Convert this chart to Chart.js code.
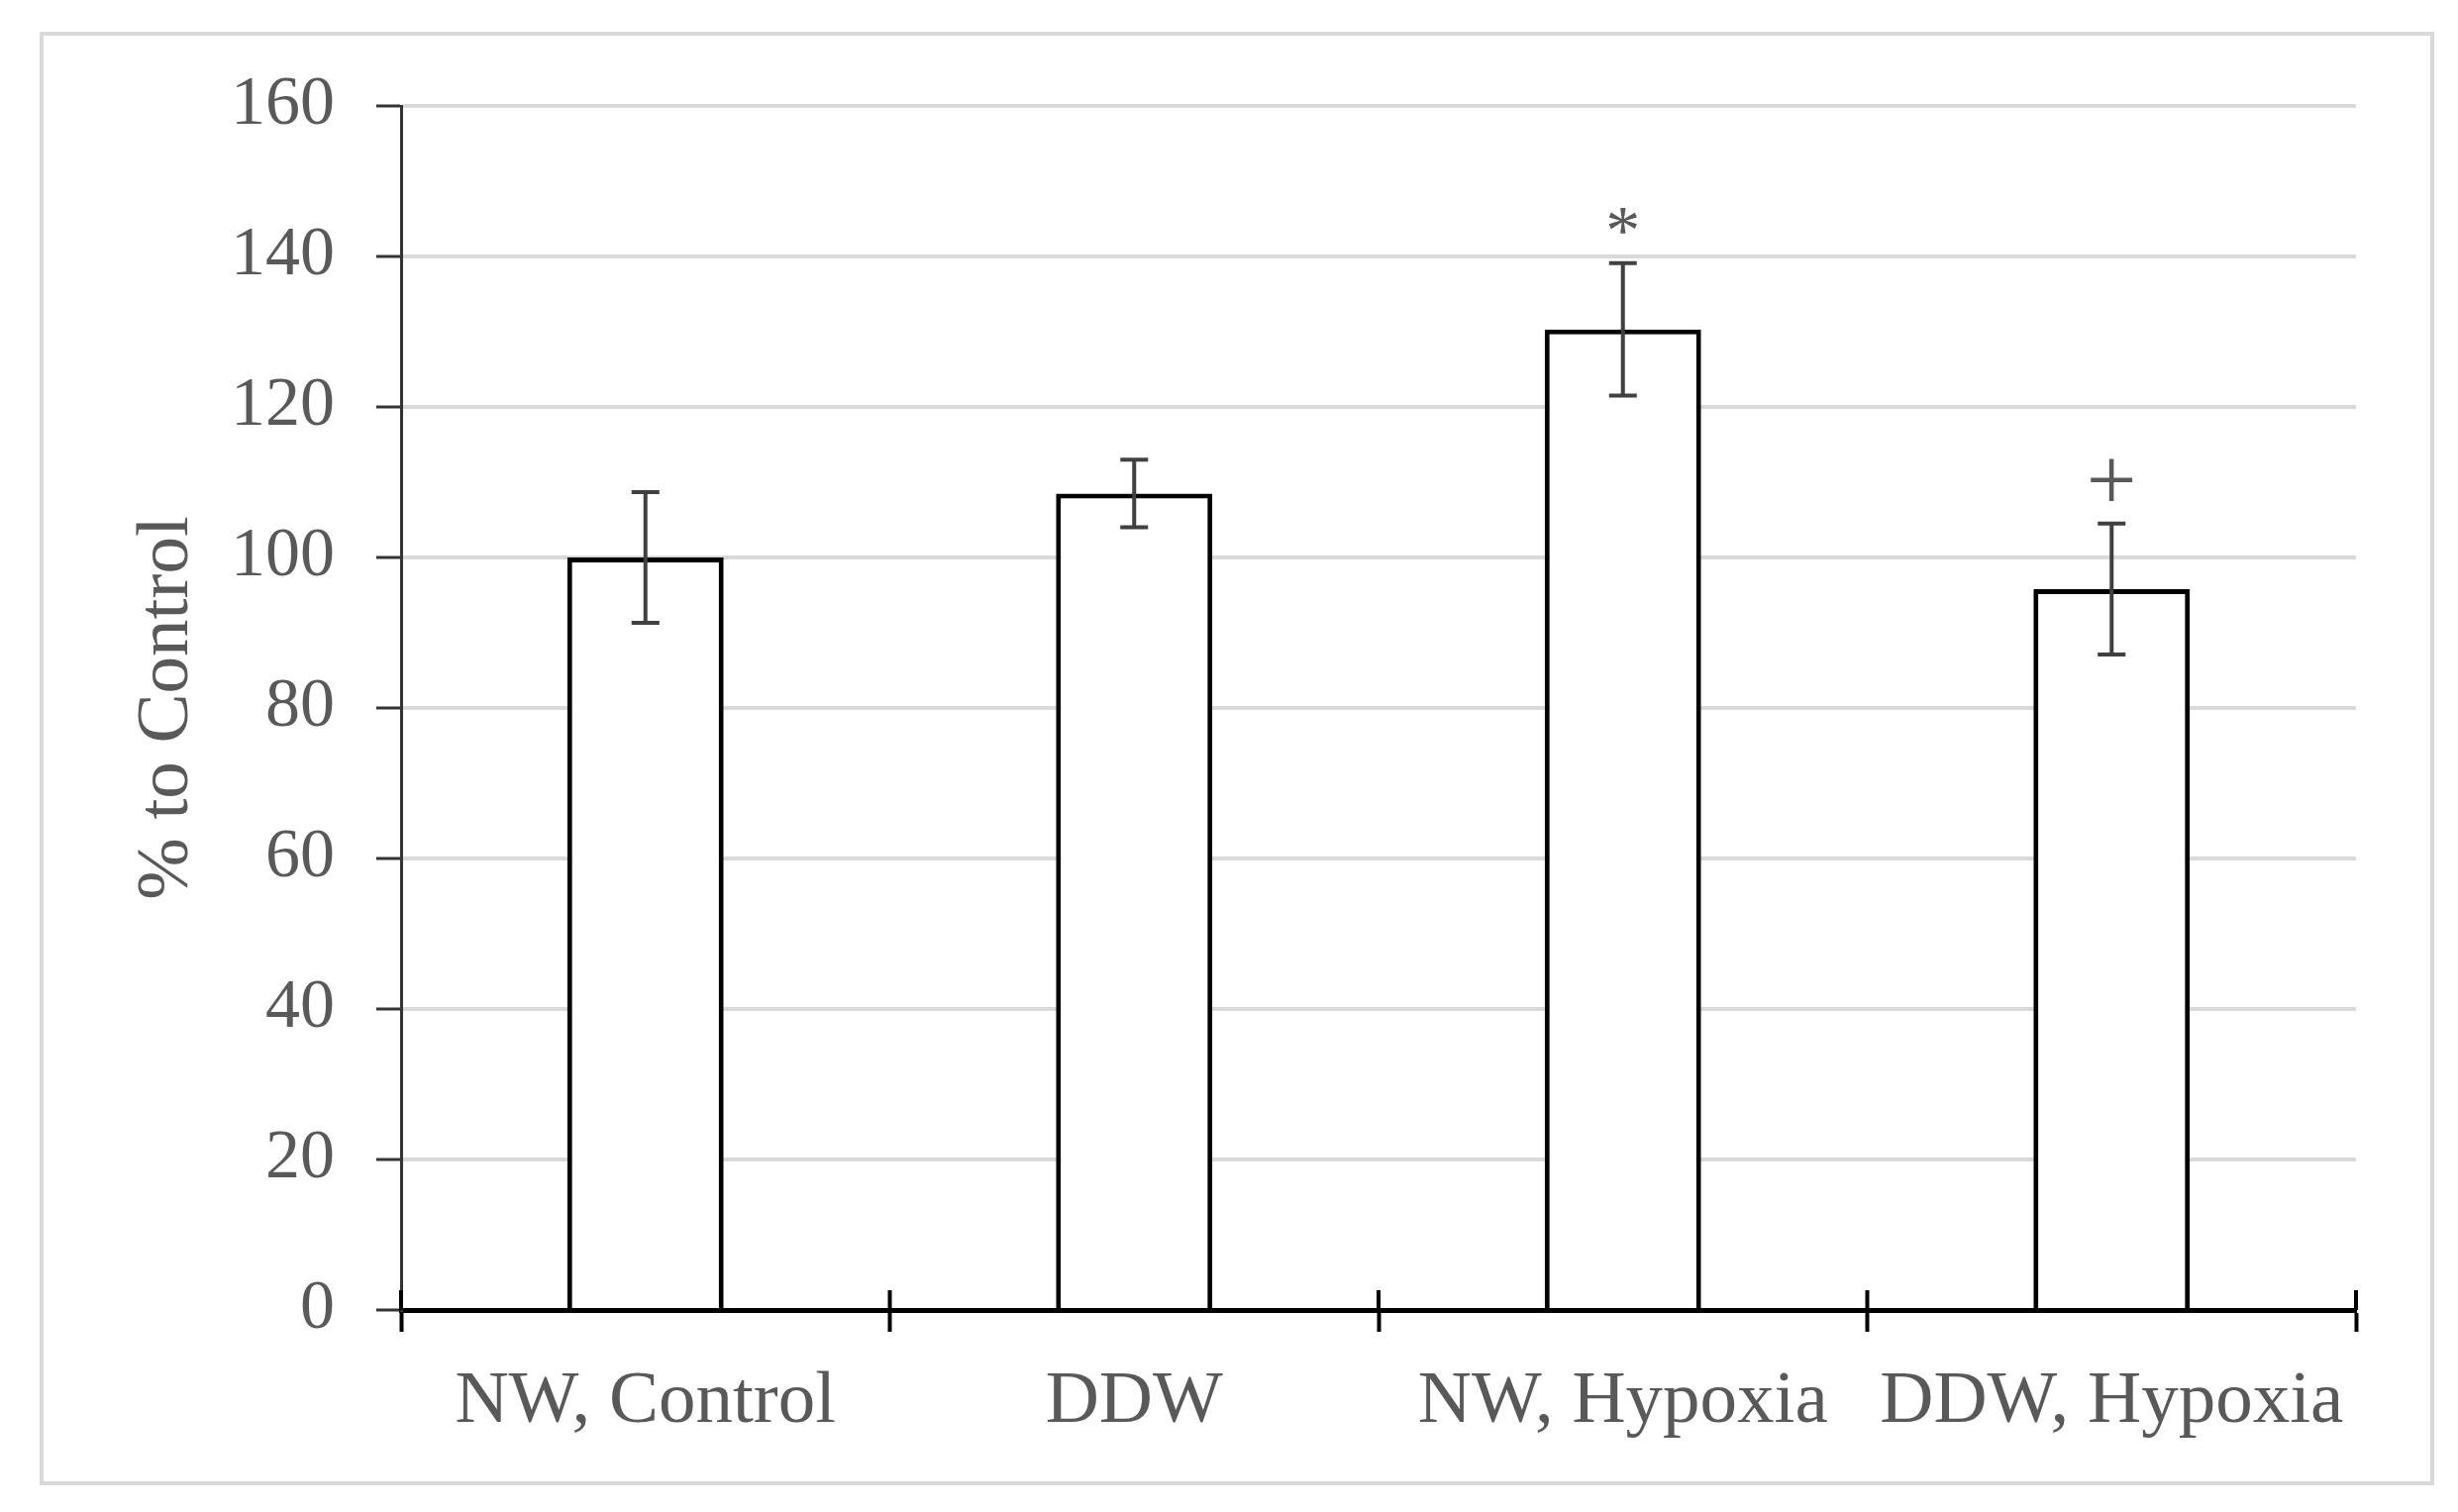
<!DOCTYPE html>
<html>
<head>
<meta charset="utf-8">
<script src="https://cdn.jsdelivr.net/npm/chart.js@4/dist/chart.umd.min.js"></script>
<style>
  html, body { margin: 0; padding: 0; background: #fff; }
  #wrap { position: relative; width: 2482px; height: 1527px; }
  #frame { position: absolute; left: 40px; top: 32px; width: 2410px; height: 1460px; border: 4px solid #d9d9d9; pointer-events: none; }
</style>
</head>
<body>
<div id="wrap">
  <canvas id="c" width="2482" height="1527"></canvas>
  <div id="frame"></div>
</div>
<script>
const categories = ["NW, Control", "DDW", "NW, Hypoxia", "DDW, Hypoxia"];
const values = [100, 108.5, 130.3, 95.8];
const errors = [8.7, 4.5, 8.8, 8.7];
const marks = ["", "", "*", "+"];
const markY = [null, null, 144.8, 110.3];
const yTicks = [0, 20, 40, 60, 80, 100, 120, 140, 160];

const FONT = "'Liberation Serif', 'Times New Roman', serif";
const TXT = "#595959";
const markSizes = { "*": 70, "+": 90 };

const errorBarPlugin = {
  id: 'errorBars',
  afterDatasetsDraw(chart) {
    const ctx = chart.ctx;
    const y = chart.scales.y;
    const meta = chart.getDatasetMeta(0);
    ctx.save();
    ctx.strokeStyle = '#404040';
    ctx.lineWidth = 4;
    meta.data.forEach((bar, i) => {
      const x = bar.x;
      const yt = y.getPixelForValue(values[i] + errors[i]);
      const yb = y.getPixelForValue(values[i] - errors[i]);
      ctx.beginPath();
      ctx.moveTo(x, yt); ctx.lineTo(x, yb);
      ctx.moveTo(x - 14, yt); ctx.lineTo(x + 14, yt);
      ctx.moveTo(x - 14, yb); ctx.lineTo(x + 14, yb);
      ctx.stroke();
      if (marks[i] && markY[i] != null) {
        ctx.fillStyle = TXT;
        ctx.font = (markSizes[marks[i]] || 70) + "px " + FONT;
        ctx.textAlign = 'center';
        ctx.textBaseline = 'alphabetic';
        const m = ctx.measureText(marks[i]);
        const cy = y.getPixelForValue(markY[i]);
        const base = cy + (m.actualBoundingBoxAscent - m.actualBoundingBoxDescent) / 2;
        ctx.fillText(marks[i], x, base);
      }
    });
    // upper half of category separator ticks
    const xs = chart.scales.x;
    const n = categories.length;
    const step = (xs.right - xs.left) / n;
    const y0 = y.getPixelForValue(0);
    ctx.strokeStyle = '#000';
    ctx.lineWidth = 4;
    for (let k = 0; k <= n; k++) {
      const px = xs.left + k * step;
      ctx.beginPath();
      ctx.moveTo(px, y0 - 20); ctx.lineTo(px, y0);
      ctx.stroke();
    }
    ctx.restore();
  }
};

new Chart(document.getElementById('c'), {
  type: 'bar',
  data: {
    labels: categories,
    datasets: [{
      data: values,
      backgroundColor: '#ffffff',
      borderColor: '#000000',
      borderWidth: 5,
      categoryPercentage: 1.0,
      barPercentage: 0.32
    }]
  },
  options: {
    responsive: false,
    animation: false,
    devicePixelRatio: 1,
    layout: { padding: { left: 124, right: 103, top: 107, bottom: 0 } },
    plugins: { legend: { display: false }, tooltip: { enabled: false } },
    scales: {
      x: {
        afterFit(s) { s.height = 204; },
        grid: { display: true, drawOnChartArea: false, offset: true, tickLength: 22, tickColor: '#000', tickWidth: 4 },
        border: { display: true, color: '#000', width: 5 },
        ticks: { color: TXT, font: { family: FONT, size: 75 }, padding: 26, maxRotation: 0, autoSkip: false }
      },
      y: {
        min: 0, max: 160,
        afterFit(s) { s.width = 405 - 124; },
        afterBuildTicks(s) { s.ticks = yTicks.map(v => ({ value: v })); },
        grid: { color: '#d9d9d9', lineWidth: 4, tickLength: 25, tickColor: '#333', tickWidth: 3 },
        border: { display: true, color: '#333', width: 3 },
        ticks: { color: TXT, font: { family: FONT, size: 70 }, padding: 42 },
        title: { display: true, text: '% to Control', color: TXT, font: { family: FONT, size: 75 }, padding: 0 }
      }
    }
  },
  plugins: [errorBarPlugin]
});
</script>
</body>
</html>
